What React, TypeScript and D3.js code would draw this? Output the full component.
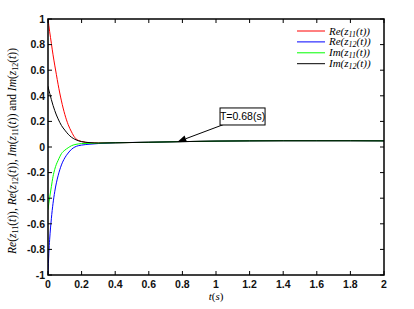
import React from "react";
import * as d3 from "d3";

const times = [0, 0.005, 0.01, 0.02, 0.03, 0.04, 0.05, 0.06, 0.08, 0.1, 0.12, 0.14, 0.16, 0.18, 0.2, 0.25, 0.3, 0.4, 0.6, 0.8, 1.0, 1.2, 1.4, 1.6, 1.8, 2.0];
const tail = [0.033, 0.037, 0.042, 0.046, 0.048, 0.049, 0.049, 0.049, 0.048];
const reZ11 = [1.0, 0.95, 0.9, 0.81, 0.72, 0.64, 0.565, 0.49, 0.36, 0.255, 0.175, 0.118, 0.073, 0.052, 0.043, 0.033, 0.031, ...tail];
const reZ12 = [-1.0, -0.83, -0.72, -0.56, -0.44, -0.35, -0.28, -0.225, -0.14, -0.085, -0.047, -0.018, 0.0, 0.01, 0.015, 0.022, 0.027, ...tail];
const imZ11 = [-0.49, -0.44, -0.395, -0.31, -0.23, -0.175, -0.135, -0.105, -0.052, -0.025, -0.006, 0.01, 0.019, 0.024, 0.027, 0.029, 0.03, ...tail];
const imZ12 = [0.475, 0.445, 0.42, 0.37, 0.325, 0.285, 0.25, 0.22, 0.168, 0.132, 0.1, 0.076, 0.06, 0.049, 0.042, 0.034, 0.031, ...tail];

const xTicks = [0, 0.2, 0.4, 0.6, 0.8, 1, 1.2, 1.4, 1.6, 1.8, 2];
const yTicks = [-1, -0.8, -0.6, -0.4, -0.2, 0, 0.2, 0.4, 0.6, 0.8, 1];

const seriesNames = ["Re", "Re", "Im", "Im"];
const seriesSubs = ["11", "12", "11", "12"];
const seriesColors = ["#ff0000", "#0000ff", "#00ff00", "#000000"];
const seriesData = [reZ11, reZ12, imZ11, imZ12];

const annotationText = "T=0.68(s)";
const arrowTip = [0.77, 0.04];
const arrowTail = [1.054, 0.18];
const boxTopLeft = [1.024, 0.305];
const boxBottomRight = [1.292, 0.172];

export default function App() {
  const W = 414, H = 309;
  const left = 48, right = 384, top = 19, bottom = 275;
  const x = d3.scaleLinear().domain([0, 2]).range([left, right]);
  const y = d3.scaleLinear().domain([-1, 1]).range([bottom, top]);
  const line = d3.line<number>().x((_, i) => x(times[i])).y((d) => y(d)).curve(d3.curveMonotoneX);
  const tickLen = 4;
  const sans = "'Liberation Sans', Arial, sans-serif";
  const serif = "'Liberation Serif', 'Times New Roman', serif";

  const tipX = x(arrowTip[0]), tipY = y(arrowTip[1]);
  const tailX = x(arrowTail[0]), tailY = y(arrowTail[1]);
  const ang = Math.atan2(tipY - tailY, tipX - tailX);
  const ah = 9, aw = 3.5;
  const bx = tipX - ah * Math.cos(ang), by = tipY - ah * Math.sin(ang);
  const head = `M${tipX},${tipY} L${bx + aw * Math.sin(ang)},${by - aw * Math.cos(ang)} L${bx - aw * Math.sin(ang)},${by + aw * Math.cos(ang)} Z`;

  const legX1 = 297, legX2 = 325, legY0 = 31, legDy = 10.9;

  return (
    <svg width={W} height={H} style={{ position: "absolute", left: 0, top: 0, background: "#fff" }}>
      <rect x={0} y={0} width={W} height={H} fill="#fff" />
      <rect x={left} y={top} width={right - left} height={bottom - top} fill="#fff" />
      <defs>
        <clipPath id="clip">
          <rect x={left} y={top - 1} width={right - left} height={bottom - top + 2} />
        </clipPath>
      </defs>
      <g clipPath="url(#clip)">
        {seriesData.map((d, i) => (
          <path key={i} d={line(d) || ""} fill="none" stroke={seriesColors[i]} strokeWidth={1} />
        ))}
      </g>
      {xTicks.map((t) => (
        <g key={"x" + t}>
          <line x1={x(t)} x2={x(t)} y1={bottom} y2={bottom - tickLen} stroke="#000" />
          <line x1={x(t)} x2={x(t)} y1={top} y2={top + tickLen} stroke="#000" />
          <text x={x(t)} y={288} fontFamily={sans} fontSize={10.5} fontWeight="bold" textAnchor="middle" fill="#111">{String(t)}</text>
        </g>
      ))}
      {yTicks.map((t) => (
        <g key={"y" + t}>
          <line x1={left} x2={left + tickLen} y1={y(t)} y2={y(t)} stroke="#000" />
          <line x1={right} x2={right - tickLen} y1={y(t)} y2={y(t)} stroke="#000" />
          <text x={45} y={y(t) + 3.8} fontFamily={sans} fontSize={10.5} fontWeight="bold" textAnchor="end" fill="#111">{String(t).replace("\u2212", "-")}</text>
        </g>
      ))}
      <rect x={left} y={top} width={right - left} height={bottom - top} fill="none" stroke="#000" strokeWidth={1.5} />

      {seriesNames.map((n, i) => (
        <g key={"leg" + i}>
          <line x1={legX1} x2={legX2} y1={legY0 + i * legDy} y2={legY0 + i * legDy} stroke={seriesColors[i]} strokeWidth={1} />
          <text x={329} y={legY0 + i * legDy + 3.5} fontFamily={serif} fontSize={11} fontStyle="italic" fill="#000">
            {n}(z<tspan fontSize={8} dy={2}>{seriesSubs[i]}</tspan><tspan dy={-2}>(t))</tspan>
          </text>
        </g>
      ))}

      <line x1={tailX} y1={tailY} x2={bx} y2={by} stroke="#000" strokeWidth={1} />
      <path d={head} fill="#000" />
      <rect x={x(boxTopLeft[0])} y={y(boxTopLeft[1])} width={x(boxBottomRight[0]) - x(boxTopLeft[0])} height={y(boxBottomRight[1]) - y(boxTopLeft[1])} fill="#fff" stroke="#000" strokeWidth={1} />
      <text x={(x(boxTopLeft[0]) + x(boxBottomRight[0])) / 2} y={(y(boxTopLeft[1]) + y(boxBottomRight[1])) / 2 + 3.8} fontFamily={sans} fontSize={10.5} textAnchor="middle" fill="#000">{annotationText}</text>

      <text x={(left + right) / 2} y={299.5} fontFamily={serif} fontSize={11} textAnchor="middle" fill="#000">
        <tspan fontStyle="italic">t</tspan>(<tspan fontStyle="italic">s</tspan>)
      </text>

      <text transform={`translate(16,${(top + bottom) / 2 + 4}) rotate(-90)`} fontFamily={serif} fontSize={11.5} textAnchor="middle" fill="#000">
        <tspan fontStyle="italic">Re</tspan>(<tspan fontStyle="italic">z</tspan><tspan fontSize={8} dy={2}>11</tspan><tspan dy={-2}>(</tspan><tspan fontStyle="italic">t</tspan>)), <tspan fontStyle="italic">Re</tspan>(<tspan fontStyle="italic">z</tspan><tspan fontSize={8} dy={2}>12</tspan><tspan dy={-2}>(</tspan><tspan fontStyle="italic">t</tspan>)), <tspan fontStyle="italic">Im</tspan>(<tspan fontStyle="italic">z</tspan><tspan fontSize={8} dy={2}>11</tspan><tspan dy={-2}>(</tspan><tspan fontStyle="italic">t</tspan>)) and <tspan fontStyle="italic">Im</tspan>(<tspan fontStyle="italic">z</tspan><tspan fontSize={8} dy={2}>12</tspan><tspan dy={-2}>(</tspan><tspan fontStyle="italic">t</tspan>))
      </text>
    </svg>
  );
}
